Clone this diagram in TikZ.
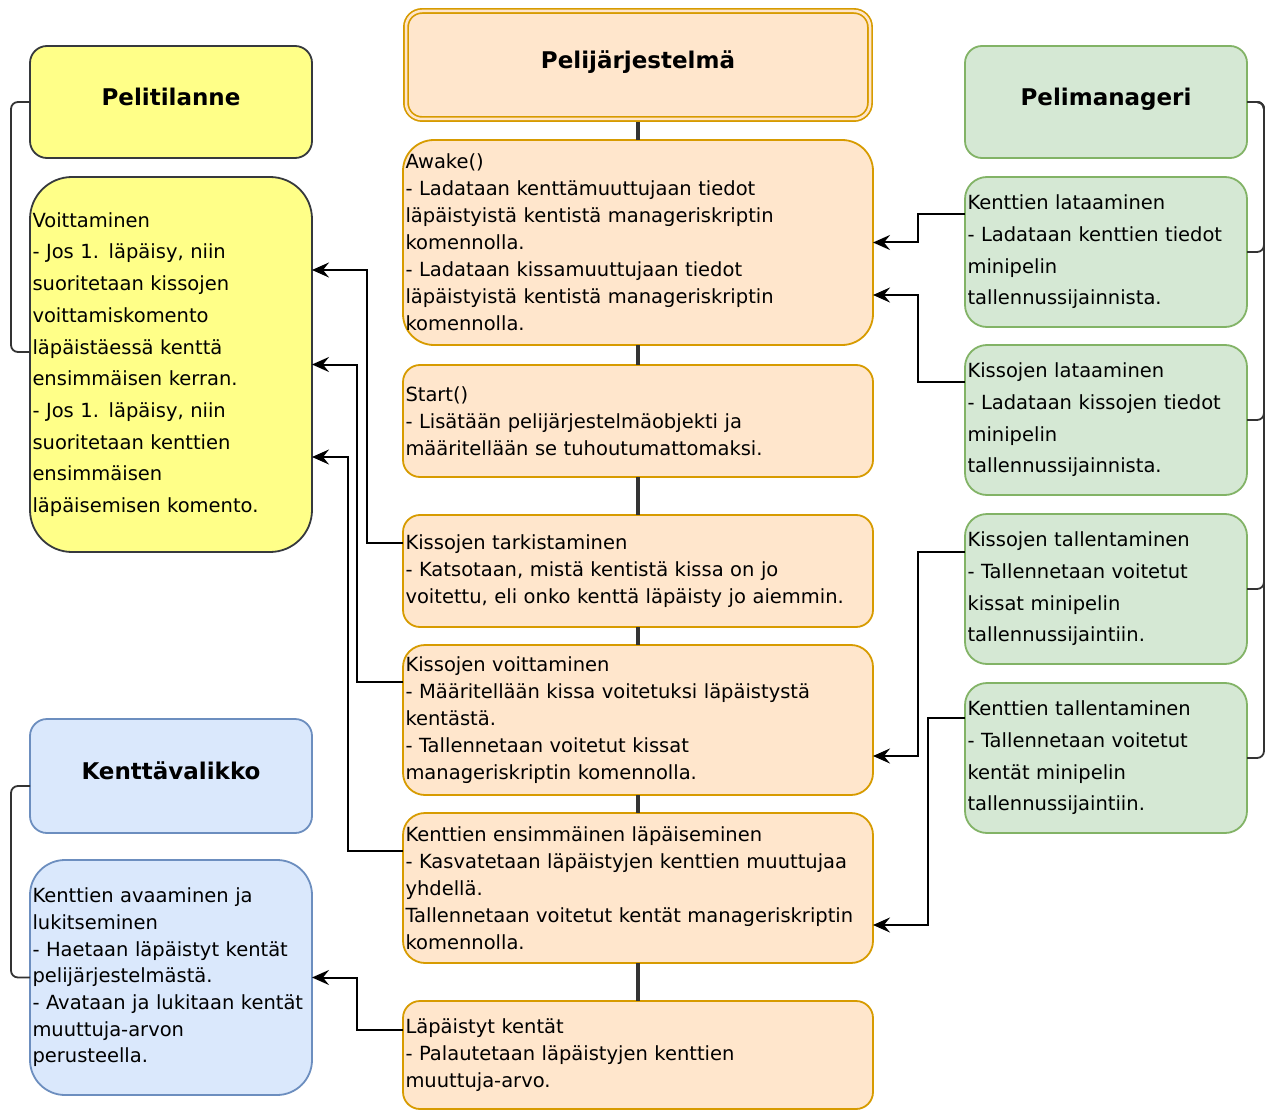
\documentclass[tikz,border=0pt]{standalone}
\usepackage{fontspec}
\setmainfont{DejaVu Sans}
\usetikzlibrary{arrows.meta}
\definecolor{orfill}{HTML}{FFE6CC}
\definecolor{ordraw}{HTML}{D79B00}
\definecolor{yefill}{HTML}{FFFF88}
\definecolor{yedraw}{HTML}{36393D}
\definecolor{blfill}{HTML}{DAE8FC}
\definecolor{bldraw}{HTML}{6C8EBF}
\definecolor{grfill}{HTML}{D5E8D4}
\definecolor{grdraw}{HTML}{82B366}
\definecolor{linegray}{HTML}{333333}
\tikzset{
  boxbase/.style={draw, line width=1.8pt, inner xsep=2.5pt, inner ysep=0pt, outer sep=0pt, anchor=north west},
  midbox/.style={boxbase, fill=orfill, draw=ordraw, align=left, text width=465pt, minimum width=470pt,
     font=\fontsize{19.5}{27}\selectfont},
  sidetext/.style={align=left, text width=277pt, minimum width=282pt, font=\fontsize{19.5}{31.7}\selectfont},
  yebox/.style={boxbase, fill=yefill, draw=yedraw},
  blbox/.style={boxbase, fill=blfill, draw=bldraw},
  grbox/.style={boxbase, fill=grfill, draw=grdraw},
  titlebox/.style={align=center, font=\fontsize{23}{27}\selectfont\bfseries, text height=17pt, text depth=10pt},
  trunk/.style={draw=linegray, line width=3.5pt},
  bracket/.style={draw=linegray, line width=1.8pt, rounded corners=7pt},
  arr/.style={draw=black, line width=2pt, -{Stealth[length=17pt,width=15pt,inset=6pt]}},
}
\begin{document}
\begin{tikzpicture}[x=1pt,y=-1pt]
\useasboundingbox (0,0) rectangle (1272,1110);
\fill[white] (0,0) rectangle (1272,1110);

% middle column
\node[midbox, titlebox, text width=459pt, minimum width=464pt, minimum height=108pt, rounded corners=16pt,
      double=orfill, double distance=2.5pt, line width=1.7pt] (pj) at (406,11) {Pelijärjestelmä};
\node[midbox, minimum height=205pt, rounded corners=31pt] (awake) at (403,140) {Awake()\\- Ladataan kenttämuuttujaan tiedot\\läpäistyistä kentistä manageriskriptin\\komennolla.\\- Ladataan kissamuuttujaan tiedot\\läpäistyistä kentistä manageriskriptin\\komennolla.};
\node[midbox, minimum height=112pt, rounded corners=17pt] (start) at (403,365) {Start()\\- Lisätään pelijärjestelmäobjekti ja\\määritellään se tuhoutumattomaksi.};
\node[midbox, minimum height=112pt, rounded corners=17pt] (tark) at (403,515) {Kissojen tarkistaminen\\- Katsotaan, mistä kentistä kissa on jo\\voitettu, eli onko kenttä läpäisty jo aiemmin.};
\node[midbox, minimum height=150pt, rounded corners=22pt] (kvoitt) at (403,645) {Kissojen voittaminen\\- Määritellään kissa voitetuksi läpäistystä\\kentästä.\\- Tallennetaan voitetut kissat\\manageriskriptin komennolla.};
\node[midbox, minimum height=150pt, rounded corners=22pt] (kens) at (403,813) {Kenttien ensimmäinen läpäiseminen\\- Kasvatetaan läpäistyjen kenttien muuttujaa\\yhdellä.\\Tallennetaan voitetut kentät manageriskriptin\\komennolla.};
\node[midbox, minimum height=108pt, rounded corners=17pt] (lap) at (403,1001) {Läpäistyt kentät\\- Palautetaan läpäistyjen kenttien\\muuttuja-arvo.};

% left column
\node[yebox, titlebox, minimum width=282pt, minimum height=112pt, rounded corners=17pt] (pelit) at (30,46) {Pelitilanne};
\node[yebox, sidetext, minimum height=375pt, rounded corners=42pt] (voitt) at (30,177) {Voittaminen\\- Jos 1. läpäisy, niin\\suoritetaan kissojen\\voittamiskomento\\läpäistäessä kenttä\\ensimmäisen kerran.\\- Jos 1. läpäisy, niin\\suoritetaan kenttien\\ensimmäisen\\läpäisemisen komento.};
\node[blbox, titlebox, minimum width=282pt, minimum height=114pt, rounded corners=17pt] (kval) at (30,719) {Kenttävalikko};
\node[blbox, sidetext, font=\fontsize{19.5}{26.7}\selectfont, minimum height=235pt, rounded corners=35pt] (avaa) at (30,860) {Kenttien avaaminen ja\\lukitseminen\\- Haetaan läpäistyt kentät\\pelijärjestelmästä.\\- Avataan ja lukitaan kentät\\muuttuja-arvon\\perusteella.};

% right column
\node[grbox, titlebox, minimum width=282pt, minimum height=112pt, rounded corners=17pt] (pman) at (965,46) {Pelimanageri};
\node[grbox, sidetext, minimum height=150pt, rounded corners=22pt] (klat) at (965,177) {Kenttien lataaminen\\- Ladataan kenttien tiedot\\minipelin\\tallennussijainnista.};
\node[grbox, sidetext, minimum height=150pt, rounded corners=22pt] (kislat) at (965,345) {Kissojen lataaminen\\- Ladataan kissojen tiedot\\minipelin\\tallennussijainnista.};
\node[grbox, sidetext, minimum height=150pt, rounded corners=22pt] (kistal) at (965,514) {Kissojen tallentaminen\\- Tallennetaan voitetut\\kissat minipelin\\tallennussijaintiin.};
\node[grbox, sidetext, minimum height=150pt, rounded corners=22pt] (kental) at (965,683) {Kenttien tallentaminen\\- Tallennetaan voitetut\\kentät minipelin\\tallennussijaintiin.};

% middle trunk
\draw[trunk] (pj.south) ++(0,3) -- (awake.north);
\draw[trunk] (awake.south) -- (start.north);
\draw[trunk] (start.south) -- (tark.north);
\draw[trunk] (tark.south) -- (kvoitt.north);
\draw[trunk] (kvoitt.south) -- (kens.north);
\draw[trunk] (kens.south) -- (lap.north);

% left brackets
\draw[bracket] (pelit.west) -- ++(-19,0) |- ([yshift=12.5pt]voitt.west);
\draw[bracket] ([yshift=-10pt]kval.west) -- ++(-19,0) |- (avaa.west);

% right brackets
\draw[bracket] (pman.east) -- ++(17,0) |- (klat.east);
\draw[bracket] (pman.east) -- ++(17,0) |- (kislat.east);
\draw[bracket] (pman.east) -- ++(17,0) |- (kistal.east);
\draw[bracket] (pman.east) -- ++(17,0) |- (kental.east);

% left arrows
\draw[arr] ([yshift=28pt]tark.west) -- ++(-36,0) |- ([yshift=94.5pt]voitt.east);
\draw[arr] ([yshift=38pt]kvoitt.west) -- ++(-46,0) |- (voitt.east);
\draw[arr] ([yshift=37pt]kens.west) -- ++(-55,0) |- ([yshift=-92.5pt]voitt.east);
\draw[arr] ([yshift=25pt]lap.west) -- ++(-46,0) |- (avaa.east);

% right arrows
\draw[arr] ([yshift=38pt]klat.west) -- ++(-47,0) |- (awake.east);
\draw[arr] ([yshift=38pt]kislat.west) -- ++(-47,0) |- ([yshift=-52.5pt]awake.east);
\draw[arr] ([yshift=37pt]kistal.west) -- ++(-47,0) |- ([yshift=-36pt]kvoitt.east);
\draw[arr] ([yshift=40pt]kental.west) -- ++(-37,0) |- ([yshift=-37pt]kens.east);
\end{tikzpicture}
\end{document}
